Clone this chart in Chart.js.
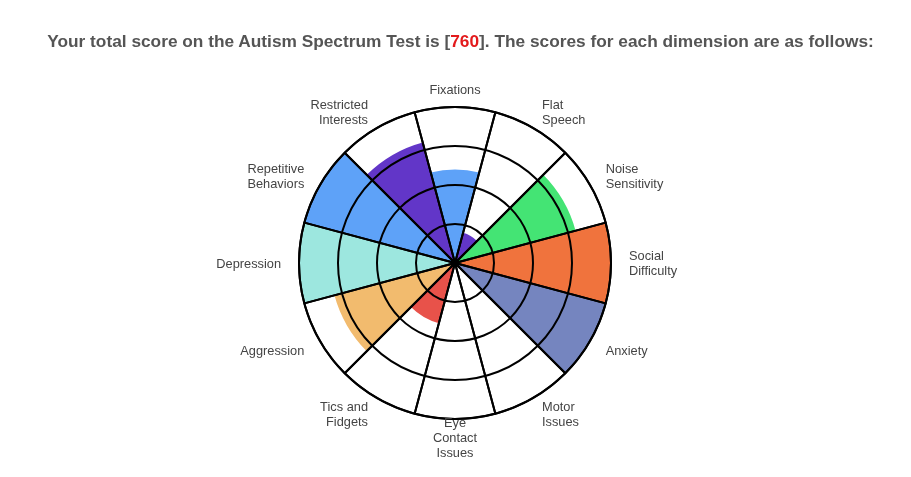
<!DOCTYPE html>
<html>
<head>
<meta charset="utf-8">
<script src="https://cdn.jsdelivr.net/npm/chart.js@4.4.1/dist/chart.umd.min.js"></script>
<style>
  body { margin: 0; background: #fff; }
  #wrap { position: relative; width: 911px; height: 477px; }
  #titulo {
    position: absolute; left: 5px; top: 31px; width: 911px; text-align: center;
    font: bold 17.3px "Liberation Sans", Arial, sans-serif; color: #555;
  }
  #titulo span { color: #e31a1c; }
  #grafico { position: absolute; left: 0; top: 0; }
</style>
</head>
<body>
<div id="wrap">
  <canvas id="grafico" width="911" height="477"></canvas>
  <div id="titulo">Your total score on the Autism Spectrum Test is [<span>760</span>]. The scores for each dimension are as follows:</div>
</div>
<script>
// dimensões, no sentido horário a partir do topo
const dimensoes = [
  ["Fixations"], ["Flat", "Speech"], ["Noise", "Sensitivity"], ["Social", "Difficulty"],
  ["Anxiety"], ["Motor", "Issues"], ["Eye", "Contact", "Issues"], ["Tics and", "Fidgets"],
  ["Aggression"], ["Depression"], ["Repetitive", "Behaviors"], ["Restricted", "Interests"]
];
const pontuacoes = [60, 20, 80, 100, 100, 0, 0, 40, 80, 100, 100, 80];
const cores = [
  "#5ea2f8", "#6236c8", "#44e474", "#f0733d", "#7585bf", "#9aa7d6",
  "#cccccc", "#e8524a", "#f2bb6e", "#9de7df", "#5ea2f8", "#6236c8"
];
const maximo = 100;
const passo = 25;
const contornos = dimensoes.map(() => maximo);

// rótulos no estilo do original: centralizados verticalmente no ponto
const rotulosPlugin = {
  id: "rotulos",
  afterDraw(chart) {
    const r = chart.scales.r;
    const ctx = chart.ctx;
    const dist = r.drawingArea + 18;
    ctx.save();
    ctx.font = "12.8px 'Liberation Sans', Arial, sans-serif";
    ctx.fillStyle = "#444";
    ctx.textBaseline = "middle";
    dimensoes.forEach((linhas, i) => {
      const p = r.getPointPosition(i, dist, Math.PI / dimensoes.length);
      const ang = (i * 360 / dimensoes.length) % 360;
      if (ang === 0 || ang === 180) ctx.textAlign = "center";
      else if (ang < 180) ctx.textAlign = "left";
      else ctx.textAlign = "right";
      const alt = 15;
      const y0 = p.y + 1 - (linhas.length - 1) * alt / 2;
      linhas.forEach((t, k) => ctx.fillText(t, p.x, y0 + k * alt));
    });
    ctx.restore();
  }
};

new Chart(document.getElementById("grafico"), {
  type: "polarArea",
  data: {
    labels: dimensoes.map(l => l.join(" ")),
    datasets: [
      {
        data: contornos,
        backgroundColor: "rgba(0,0,0,0)",
        borderColor: "#000",
        borderWidth: 2
      },
      {
        data: pontuacoes,
        backgroundColor: cores,
        borderWidth: 0
      }
    ]
  },
  options: {
    responsive: false,
    animation: false,
    layout: { padding: { top: 107, bottom: 58, left: 0, right: 0 } },
    plugins: { legend: { display: false }, tooltip: { enabled: false } },
    scales: {
      r: {
        min: 0,
        max: maximo,
        startAngle: -15,
        ticks: { display: false, stepSize: passo },
        grid: { color: "#000", lineWidth: 2, circular: true, z: 1 },
        angleLines: { display: false },
        pointLabels: { display: false }
      }
    }
  },
  plugins: [rotulosPlugin]
});
</script>
</body>
</html>
